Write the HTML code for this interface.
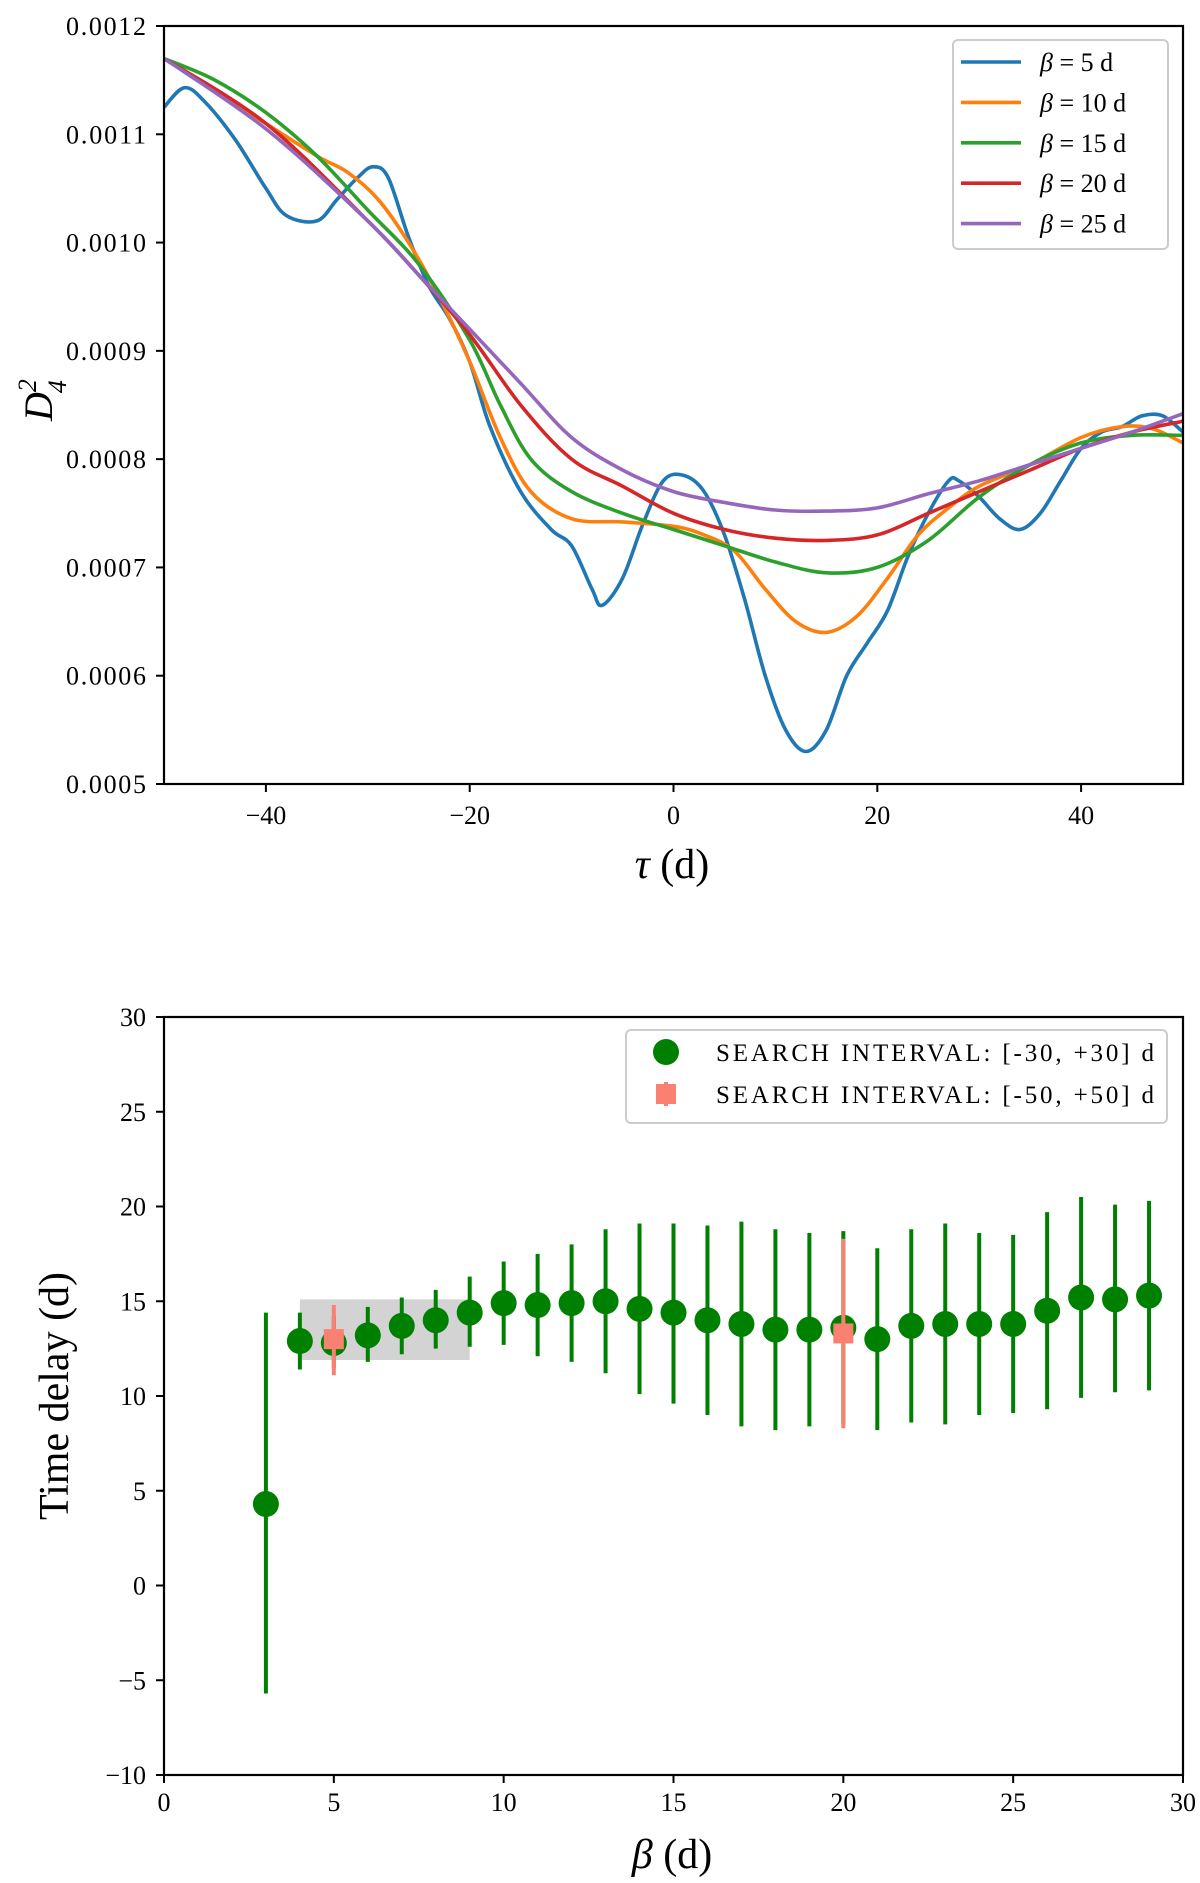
<!DOCTYPE html>
<html><head><meta charset="utf-8"><style>
body{margin:0;background:#fff}
svg{display:block;font-family:"Liberation Serif",serif}
</style></head><body>
<svg id="fig" width="1200" height="1883" viewBox="0 0 1200 1883"></svg>
<script>
// ---- Top chart data ----
const tauBlue=[-50,-48,-46,-43,-40,-38,-35,-33,-31,-29.5,-28,-26,-24,-22,-20,-18,-15,-12,-10,-8,-7,-5,-3,-1,1,3,5,7,9,11,13,15,17,19,21,23,25,27,28,30,32,34,36,38,40,42,44,46,48,50];
const d5=[0.001125,0.001143,0.00113,0.001095,0.00105,0.001025,0.00102,0.00104,0.00106,0.00107,0.00106,0.001005,0.00096,0.00093,0.00089,0.00083,0.00077,0.000735,0.00072,0.00068,0.000665,0.00069,0.00074,0.00078,0.000785,0.00077,0.00073,0.00067,0.0006,0.00055,0.00053,0.00055,0.0006,0.00063,0.00066,0.00071,0.00075,0.00078,0.00078,0.000765,0.000745,0.000735,0.00075,0.00078,0.00081,0.000825,0.00083,0.00084,0.00084,0.000825];
const tauOrange=[-50,-45,-40,-35,-32,-29,-26,-23,-20,-17,-14,-10,-5,0,3,6,9,12,15,18,21,24,27,30,35,40,44,47,50];
const d10=[0.00117,0.00114,0.00111,0.00108,0.001065,0.00104,0.001,0.00095,0.00089,0.00082,0.00077,0.000745,0.000742,0.000738,0.00073,0.000715,0.00068,0.00065,0.00064,0.000655,0.00069,0.00073,0.000755,0.000775,0.000795,0.00082,0.00083,0.000828,0.000815];
const tauGreen=[-50,-45,-40,-35,-30,-25,-20,-17,-14,-10,-5,0,5,10,15,20,25,30,35,40,45,50];
const d15=[0.00117,0.00115,0.00112,0.00108,0.00103,0.00098,0.00091,0.00085,0.0008,0.00077,0.00075,0.000735,0.00072,0.000705,0.000695,0.0007,0.000725,0.000765,0.000795,0.000815,0.000822,0.000822];
const tauRP=[-50,-40,-30,-25,-20,-15,-10,-5,0,5,10,15,20,25,30,35,40,45,50];
const d20=[0.00117,0.00111,0.00102,0.00097,0.000915,0.00085,0.0008,0.000775,0.00075,0.000735,0.000727,0.000725,0.00073,0.00075,0.00077,0.00079,0.00081,0.000825,0.000835];
const d25=[0.00117,0.001105,0.00102,0.00097,0.00092,0.00087,0.00082,0.00079,0.00077,0.00076,0.000753,0.000752,0.000755,0.000768,0.00078,0.000795,0.00081,0.000825,0.000842];
const topXTicks=[-40,-20,0,20,40];
const topYTicks=[0.0005,0.0006,0.0007,0.0008,0.0009,0.0010,0.0011,0.0012];
const topYLabels=["0.0005","0.0006","0.0007","0.0008","0.0009","0.0010","0.0011","0.0012"];
const legendTop=["β = 5 d","β = 10 d","β = 15 d","β = 20 d","β = 25 d"];
// ---- Bottom chart data ----
const betas=[3,4,5,6,7,8,9,10,11,12,13,14,15,16,17,18,19,20,21,22,23,24,25,26,27,28,29];
const delay30=[4.3,12.9,12.8,13.2,13.7,14.0,14.4,14.9,14.8,14.9,15.0,14.6,14.4,14.0,13.8,13.5,13.5,13.6,13.0,13.7,13.8,13.8,13.8,14.5,15.2,15.1,15.3];
const lo30=[-5.7,11.4,11.5,11.8,12.2,12.5,12.6,12.7,12.1,11.8,11.2,10.1,9.6,9.0,8.4,8.2,8.4,8.5,8.2,8.6,8.5,9.0,9.1,9.3,9.9,10.2,10.3];
const hi30=[14.4,14.4,14.2,14.7,15.2,15.6,16.3,17.1,17.5,18.0,18.8,19.1,19.1,19.0,19.2,18.8,18.6,18.7,17.8,18.8,19.1,18.6,18.5,19.7,20.5,20.1,20.3];
const betas50=[5,20];
const delay50=[13.0,13.3];
const lo50=[11.1,8.3];
const hi50=[14.8,18.3];
const band=[4,9,11.9,15.1];
const botXTicks=[0,5,10,15,20,25,30];
const botYTicks=[-10,-5,0,5,10,15,20,25,30];

const NS="http://www.w3.org/2000/svg";
const svg=document.getElementById('fig');
function mk(tag,attrs,parent){const e=document.createElementNS(NS,tag);for(const k in attrs)e.setAttribute(k,attrs[k]);(parent||svg).appendChild(e);return e;}
function txt(s,attrs,parent){const e=mk('text',attrs,parent);e.textContent=s;return e;}
const L=164,R=1183;
const tT=26,tB=784;
const tx=v=>L+(v+50)/100*(R-L);
const ty=v=>tB-(v-0.0005)/0.0007*(tB-tT);
const bT=1017,bB=1775;
const bx=v=>L+v/30*(R-L);
const by=v=>bB-(v+10)/40*(bB-bT);

function smooth(xs,ys){
  const p=xs.map((x,i)=>[tx(x),ty(ys[i])]);
  let d='M'+p[0][0].toFixed(1)+','+p[0][1].toFixed(1);
  for(let i=0;i<p.length-1;i++){
    const p0=p[i-1]||p[i],p1=p[i],p2=p[i+1],p3=p[i+2]||p2;
    const c1=[p1[0]+(p2[0]-p0[0])/6,p1[1]+(p2[1]-p0[1])/6];
    const c2=[p2[0]-(p3[0]-p1[0])/6,p2[1]-(p3[1]-p1[1])/6];
    d+='C'+c1.map(v=>v.toFixed(1))+' '+c2.map(v=>v.toFixed(1))+' '+p2.map(v=>v.toFixed(1));
  }
  return d;
}
const gTop=mk('g',{});


const clip=mk('clipPath',{id:'ct'});mk('rect',{x:L,y:tT,width:R-L,height:tB-tT},clip);
const cols=['#1f77b4','#ff7f0e','#2ca02c','#d62728','#9467bd'];
const series=[[tauBlue,d5],[tauOrange,d10],[tauGreen,d15],[tauRP,d20],[tauRP,d25]];
const names=['curve-beta-5','curve-beta-10','curve-beta-15','curve-beta-20','curve-beta-25'];
series.forEach((s,i)=>{
  const p=mk('path',{d:smooth(s[0],s[1]),fill:'none',stroke:cols[i],'stroke-width':3.6,'clip-path':'url(#ct)'},gTop);
  
  
});
mk('rect',{x:L,y:tT,width:R-L,height:tB-tT,fill:'none',stroke:'#000','stroke-width':2.2},gTop);
topXTicks.forEach(v=>{
  mk('line',{x1:tx(v),x2:tx(v),y1:tB,y2:tB+8,stroke:'#000','stroke-width':2},gTop);
  const t=txt(v<0?'−'+(-v):String(v),{x:tx(v),y:tB+40,'font-size':26,'text-anchor':'middle'},gTop);
  
  
});
topYTicks.forEach((v,i)=>{
  mk('line',{x1:L-8,x2:L,y1:ty(v),y2:ty(v),stroke:'#000','stroke-width':2},gTop);
  const t=txt(topYLabels[i],{x:146,y:ty(v)+9,'font-size':26,'text-anchor':'end',textLength:80},gTop);
  
  
});
const xt=txt('',{x:672,y:878,'font-size':42,'text-anchor':'middle'},gTop);
xt.innerHTML='<tspan font-style="italic">τ</tspan> (d)';


const yt=txt('',{x:0,y:0,'font-size':40,'font-style':'italic',transform:'translate(52,400) rotate(-90)','text-anchor':'middle'},gTop);
yt.innerHTML='D<tspan font-size="26" dy="-16">2</tspan><tspan font-size="26" dx="-14" dy="30">4</tspan>';


const lg=mk('g',{},gTop);


mk('rect',{x:953,y:40,width:215,height:209,rx:5,fill:'#fff',stroke:'#ccc','stroke-width':2},lg);
legendTop.forEach((s,i)=>{
  const y=62+i*40.4;
  mk('line',{x1:961,x2:1021,y1:y,y2:y,stroke:cols[i],'stroke-width':3.6},lg);
  const t=txt('',{x:1040,y:y+9,'font-size':26},lg);
  t.innerHTML='<tspan font-style="italic">β</tspan>'+s.slice(1);
  
  
});
const gB=mk('g',{});


const br=mk('rect',{x:bx(band[0]),y:by(band[3]),width:bx(band[1])-bx(band[0]),height:by(band[2])-by(band[3]),fill:'#d3d3d3'},gB);


betas.forEach((b,i)=>{
  const g=mk('g',{},gB);
  
  
  mk('line',{x1:bx(b),x2:bx(b),y1:by(lo30[i]),y2:by(hi30[i]),stroke:'#008000','stroke-width':4},g);
  mk('circle',{cx:bx(b),cy:by(delay30[i]),r:13,fill:'#008000'},g);
});
betas50.forEach((b,i)=>{
  const g=mk('g',{},gB);
  
  
  mk('line',{x1:bx(b),x2:bx(b),y1:by(lo50[i]),y2:by(hi50[i]),stroke:'#fa8072','stroke-width':4},g);
  mk('rect',{x:bx(b)-10,y:by(delay50[i])-10,width:20,height:20,fill:'#fa8072'},g);
});
mk('rect',{x:L,y:bT,width:R-L,height:bB-bT,fill:'none',stroke:'#000','stroke-width':2.2},gB);
botXTicks.forEach(v=>{
  mk('line',{x1:bx(v),x2:bx(v),y1:bB,y2:bB+8,stroke:'#000','stroke-width':2},gB);
  const t=txt(String(v),{x:bx(v),y:bB+36,'font-size':26,'text-anchor':'middle'},gB);
  
  
});
botYTicks.forEach(v=>{
  mk('line',{x1:L-8,x2:L,y1:by(v),y2:by(v),stroke:'#000','stroke-width':2},gB);
  const t=txt(v<0?'−'+(-v):String(v),{x:146,y:by(v)+9,'font-size':26,'text-anchor':'end'},gB);
  
  
});
const bxt=txt('',{x:672,y:1868,'font-size':42,'text-anchor':'middle'},gB);
bxt.innerHTML='<tspan font-style="italic">β</tspan> (d)';


const byt=txt('Time delay (d)',{x:0,y:0,'font-size':42,transform:'translate(68,1396) rotate(-90)','text-anchor':'middle'},gB);


const lg2=mk('g',{},gB);


mk('rect',{x:626,y:1030,width:541,height:93,rx:5,fill:'#fff',stroke:'#ccc','stroke-width':2},lg2);
mk('line',{x1:666,x2:666,y1:1041,y2:1063,stroke:'#008000','stroke-width':4},lg2);
mk('circle',{cx:666,cy:1052,r:13,fill:'#008000'},lg2);
mk('line',{x1:666,x2:666,y1:1082,y2:1106,stroke:'#fa8072','stroke-width':4},lg2);
mk('rect',{x:656,y:1084,width:20,height:20,fill:'#fa8072'},lg2);
const l1=txt('SEARCH INTERVAL: [-30, +30] d',{x:716,y:1061,'font-size':25,textLength:438},lg2);


const l2=txt('SEARCH INTERVAL: [-50, +50] d',{x:716,y:1103,'font-size':25,textLength:438},lg2);


</script>
</body></html>
